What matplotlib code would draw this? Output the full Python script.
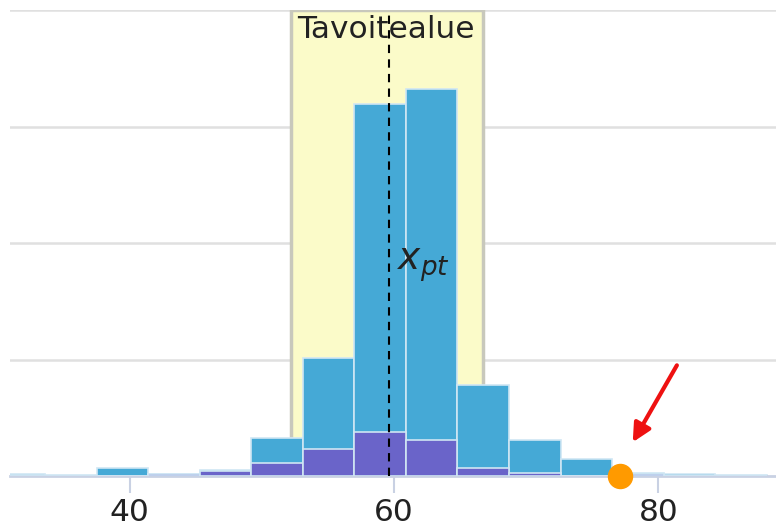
import matplotlib
matplotlib.use("Agg")
import matplotlib.pyplot as plt
import numpy as np

# ---- data ----
bin_edges = [29.7, 33.6, 37.5, 41.4, 45.3, 49.2, 53.1, 57.0, 60.9, 64.8, 68.7, 72.6, 76.5, 80.4, 84.3, 88.2]
total_counts = [1.5, 0.5, 7, 1.5, 5.5, 32.5, 101, 319, 332, 78, 31, 14.5, 2.5, 2, 1]
sub_counts = [0, 0, 0, 1.5, 4.5, 11, 23, 38, 31, 7, 3, 0, 2, 0, 0]
faded_bins = [0, 14]
target_range = [52.2, 66.7]
target_label = "Tavoitealue"
x_pt = 59.6
x_pt_label = r"$x_{pt}$"
point_x = 77.1
x_ticks = [40, 60, 80]

fig = plt.figure(figsize=(7.76, 5.28), dpi=100)
ax = fig.add_axes([10/776, (528-476)/528, 766/776, 466/528])
ax.set_xlim(30.94, 88.9)
ax.set_ylim(0, 400)

# gridlines
for gy in [100, 200, 300, 400]:
    ax.axhline(gy, color="#e0e0e0", lw=1.8, zorder=0)

# target band
ax.axvspan(target_range[0], target_range[1], ymin=0, ymax=1, facecolor="#fbfbc9",
           edgecolor="#c8c8bc", lw=2.5, zorder=1)

lefts = np.array(bin_edges[:-1])
widths = np.diff(bin_edges)
blue = ["#a9d5ee" if i in faded_bins else "#45a9d6" for i in range(len(total_counts))]
ax.bar(lefts, total_counts, width=widths, align="edge", color=blue,
       edgecolor="#cfe6f4", linewidth=1.2, zorder=2)
ax.bar(lefts, sub_counts, width=widths, align="edge", color="#6a64c9",
       edgecolor="#cfe6f4", linewidth=1.2, zorder=3)

ax.text(np.mean(target_range) - 0.1, 383, target_label, ha="center", va="center",
        fontsize=22.5, color="#222222", zorder=4)

# dashed line
ax.axvline(x_pt, color="black", lw=1.5, ls=(0, (4, 3)), zorder=5)

ax.text(60.2, 181, x_pt_label, ha="left", va="center", fontsize=27, color="#222222", zorder=5)

# point
ax.scatter([point_x], [0], s=300, color="#ff9a00", zorder=6, clip_on=False)

# arrow
ax.annotate("", xy=(78.06, 29), xytext=(81.4, 95),
            arrowprops=dict(arrowstyle="-|>,head_length=1.1,head_width=0.55",
                            color="#ee1111", lw=3, shrinkA=0, shrinkB=0), zorder=7)

# axes styling
for s in ["top", "right", "left"]:
    ax.spines[s].set_visible(False)
ax.spines["bottom"].set_color("#c9d1e3")
ax.spines["bottom"].set_linewidth(2)
ax.set_yticks([])
ax.set_xticks(x_ticks)
ax.tick_params(axis="x", length=12, width=1.5, color="#c9d1e3", labelsize=22.5,
               labelcolor="#222222", pad=4)

fig.savefig("out.png", dpi=100)
